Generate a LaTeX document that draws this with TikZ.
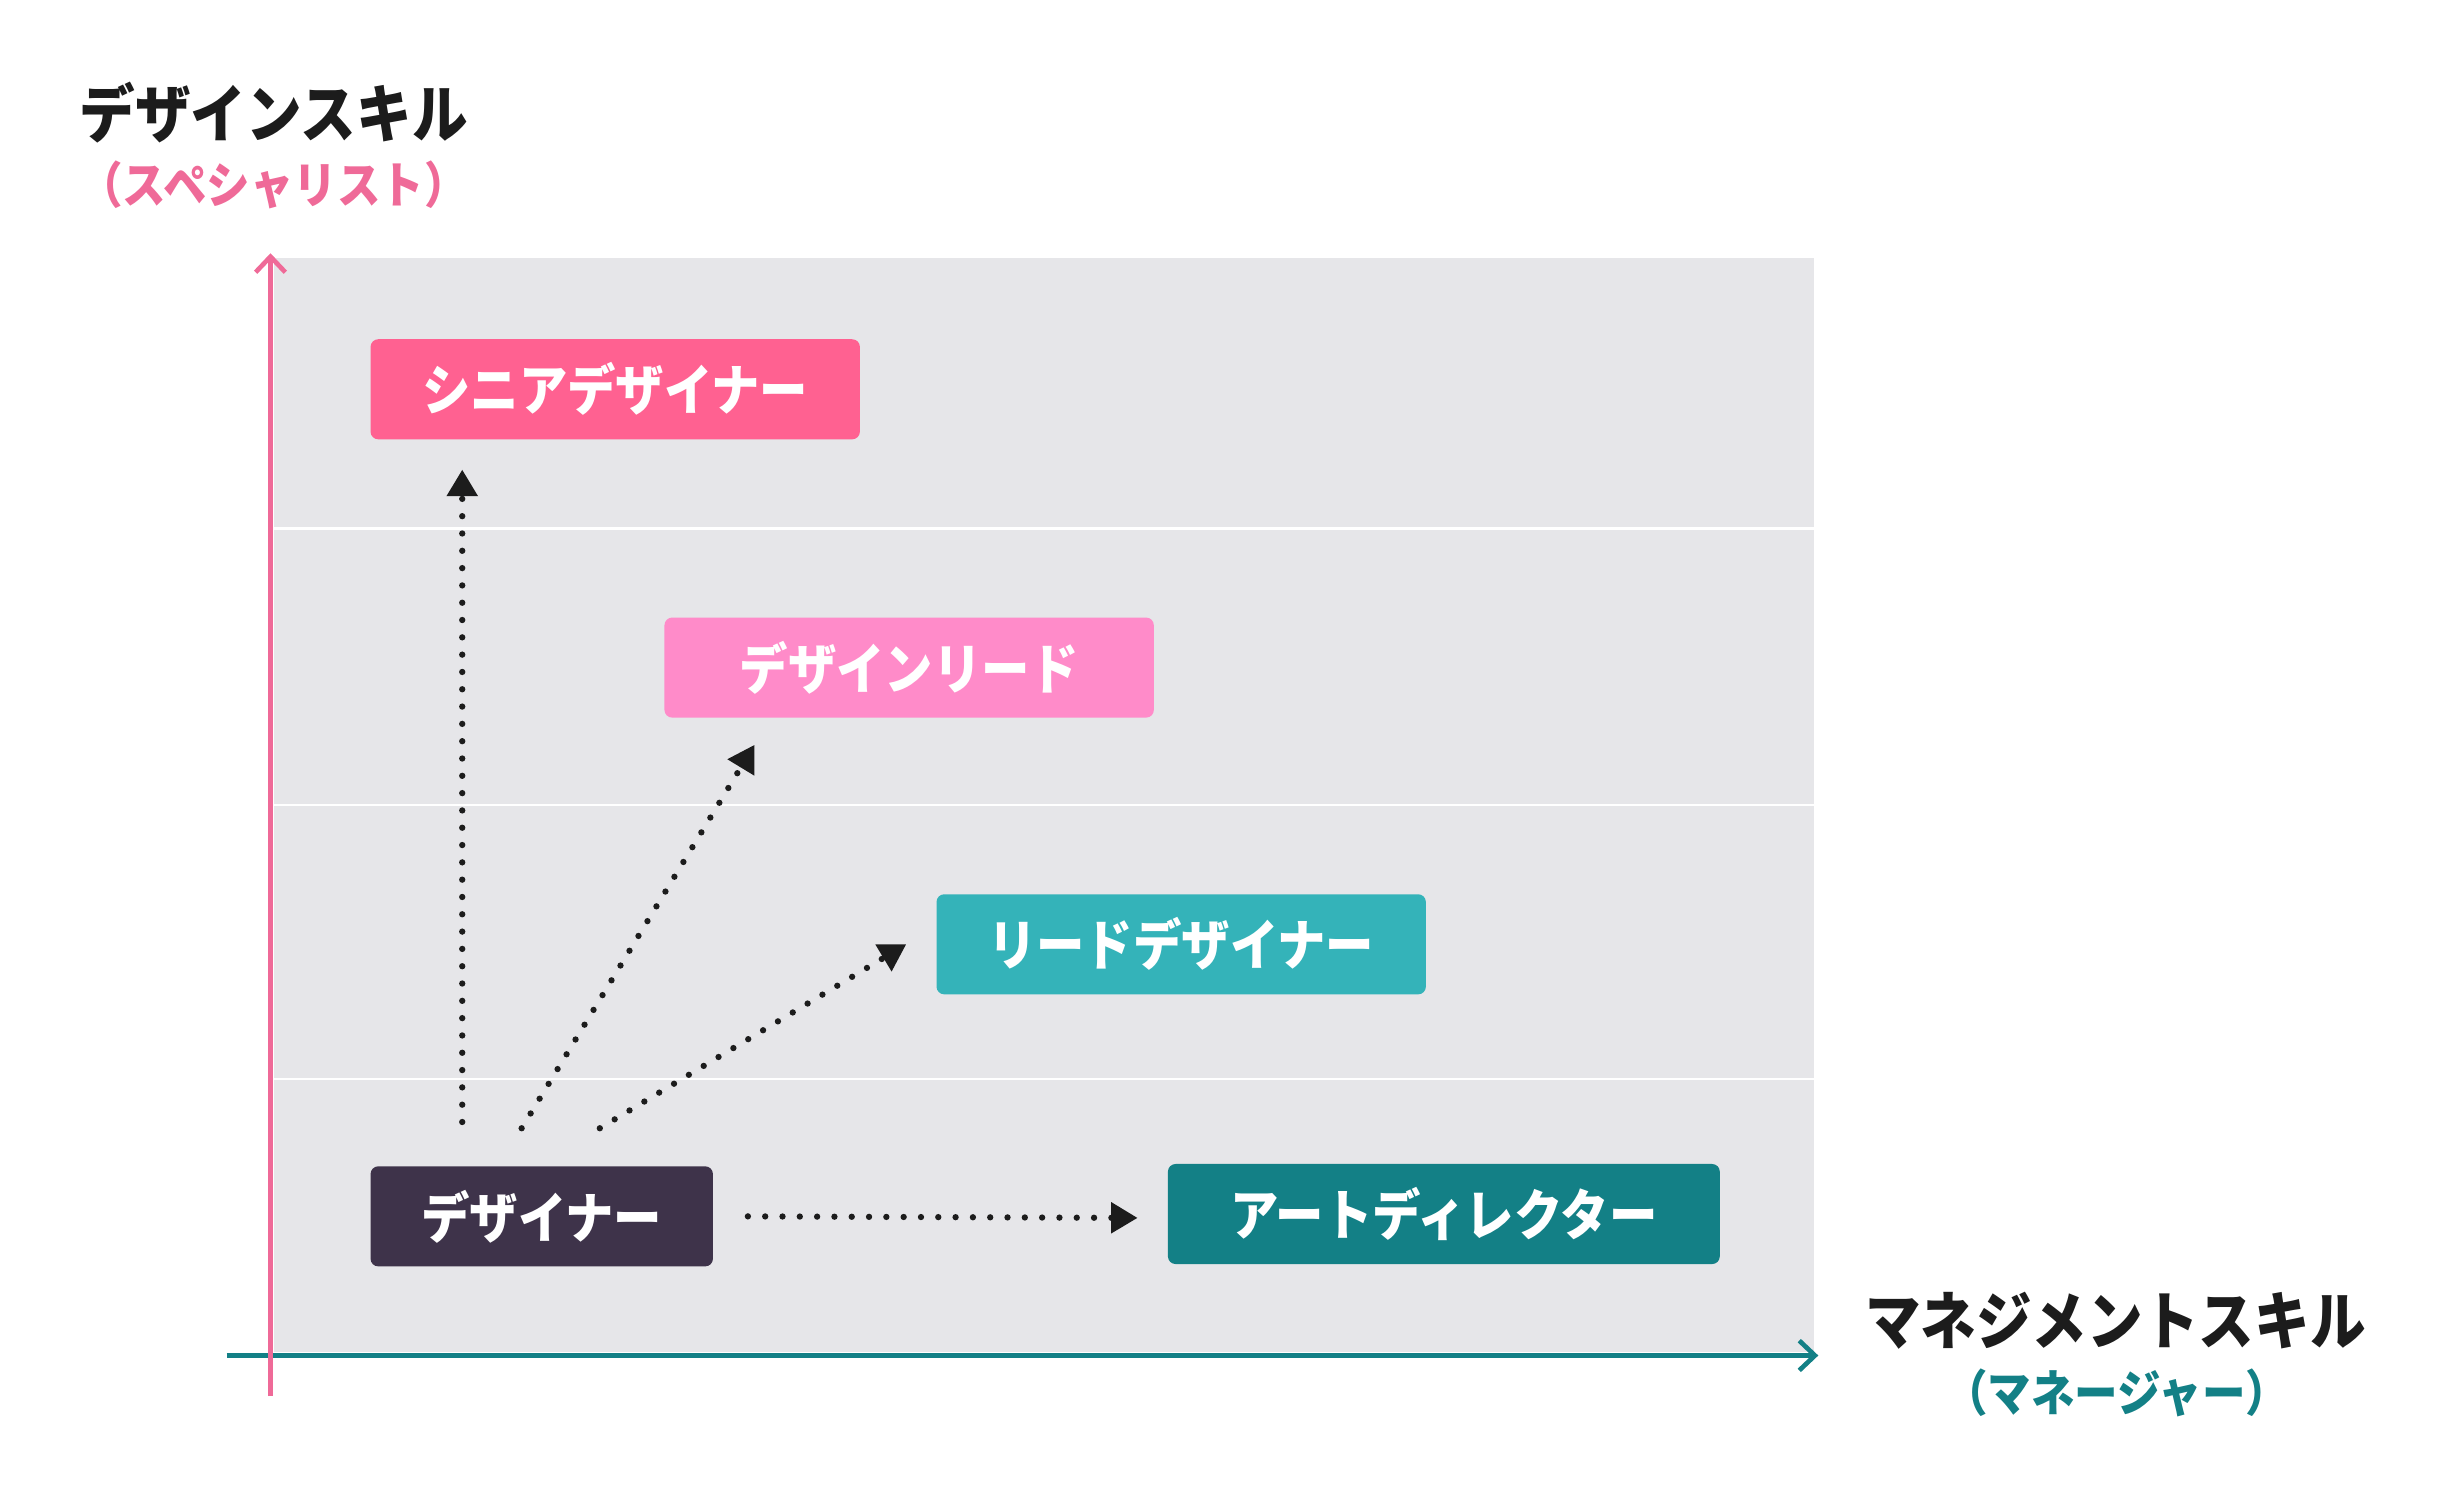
\documentclass[tikz,border=0pt]{standalone}
\usepackage{fontspec}
\newfontfamily\jp{Noto Sans CJK JP}[FakeStretch=0.88]
\usepackage{tikz}
\usetikzlibrary{arrows.meta,calc,positioning}
\definecolor{grisFondo}{RGB}{230,230,233}
\definecolor{rosa}{RGB}{255,97,145}
\definecolor{rosaClaro}{RGB}{255,139,201}
\definecolor{rosaEje}{RGB}{239,106,152}
\definecolor{turquesa}{RGB}{52,179,185}
\definecolor{turquesaOscuro}{RGB}{19,128,134}
\definecolor{morado}{RGB}{62,51,74}
\definecolor{negro}{RGB}{28,28,28}
\tikzstyle{puesto}=[rectangle, rounded corners=2.8pt, minimum height=1.28cm,
                    inner sep=0pt, text=white,
                    font=\jp\bfseries\fontsize{20}{20}\selectfont]
\tikzstyle{flecha}=[negro, line width=2.3pt, line cap=round,
                    dash pattern=on 0pt off 6.3pt,
                    -{Triangle[length=0.34cm,width=0.38cm]}]
\tikzstyle{eje}   =[line width=1.8pt,
                    -{Straight Barb[length=0.2cm,width=0.38cm,line width=1.7pt]}]
\tikzstyle{titulo}=[inner sep=0pt, font=\jp\bfseries\fontsize{23}{23}\selectfont]
\tikzstyle{nota}  =[inner sep=0pt, font=\jp\bfseries\fontsize{18}{18}\selectfont]

\begin{document}
\begin{tikzpicture}
    \useasboundingbox (0,0) rectangle (31.2,19.06);

    % fondo
    \fill[grisFondo] (3.5,1.76) rectangle (23.2,15.76);
    \foreach \y in {12.3,8.76,5.26}
        \draw[white, line width=0.8pt] (3.5,\y) -- (23.2,\y);

    % ejes
    \coordinate (ejeXini) at (2.9,1.72);
    \coordinate (ejeXfin) at (23.26,1.72);
    \coordinate (ejeYini) at (3.46,1.2);
    \coordinate (ejeYfin) at (3.46,15.82);
    \draw [eje,turquesaOscuro] (ejeXini) to (ejeXfin);
    \draw [eje,rosaEje] (ejeYini) to (ejeYfin);

    \draw (3.5,17.62) node (tituloY) [titulo,negro] {デザインスキル};
    \draw (3.5,16.7) node (notaY) [nota,rosaEje] {（スペシャリスト）};
    \draw (27.06,2.16) node (tituloX) [titulo,negro] {マネジメントスキル};
    \draw (27.08,1.24) node (notaX) [nota,turquesaOscuro] {（マネージャー）};

    % puestos
    \draw (7.87,14.08) node (senior) [puesto,fill=rosa,minimum width=6.26cm] {シニアデザイナー};
    \draw (11.63,10.52) node (dlead) [puesto,fill=rosaClaro,minimum width=6.26cm] {デザインリード};
    \draw (15.11,6.98) node (ldes) [puesto,fill=turquesa,minimum width=6.26cm] {リードデザイナー};
    \draw (6.93,3.5) node (dis) [puesto,fill=morado,minimum width=4.38cm] {デザイナー};
    \draw (18.47,3.53) node (ad) [puesto,fill=turquesaOscuro,minimum width=7.06cm] {アートディレクター};

    % flechas
    \draw [flecha] ([xshift=1.18cm,yshift=0.56cm]dis.north west) to ([xshift=1.18cm,yshift=-0.38cm]senior.south west);
    \draw [flecha] ([xshift=1.94cm,yshift=0.48cm]dis.north west) to ([xshift=1.16cm,yshift=-0.34cm]dlead.south west);
    \draw [flecha] ([xshift=2.94cm,yshift=0.48cm]dis.north west) to ([xshift=-0.38cm]ldes.west);
    \draw [flecha] ([xshift=0.44cm]dis.east) to ([xshift=-0.38cm,yshift=-0.05cm]ad.west);

\end{tikzpicture}
\end{document}
